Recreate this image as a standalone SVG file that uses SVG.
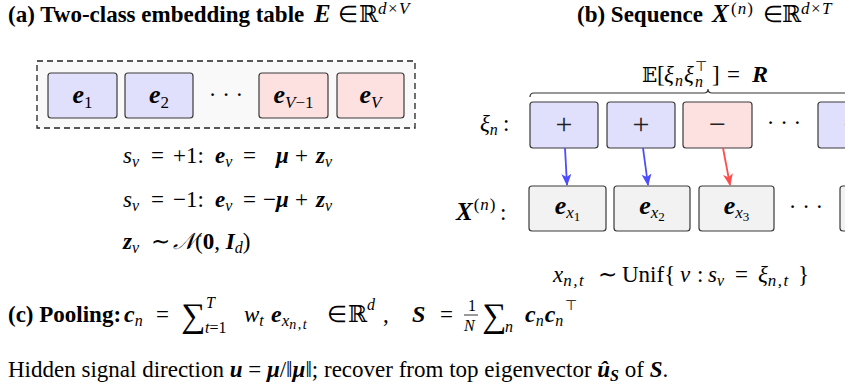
<svg xmlns="http://www.w3.org/2000/svg" width="845" height="390" viewBox="0 0 845 390">
<style>
svg{font-family:"Liberation Serif","Times New Roman",serif;font-size:23px;}
text{fill:#000;}
.b{font-weight:bold;}
.i{font-style:italic;}
.bi{font-weight:bold;font-style:italic;}
.bb{font-family:"DejaVu Serif","DejaVu Sans",serif;font-weight:normal;font-style:normal;}
.s{font-size:16px;}
.sb{font-size:17px;}
.ss{font-size:14px;}
.top{font-size:14px;font-family:"DejaVu Sans",sans-serif;}
.box{stroke:#3a3a3a;stroke-width:1.2;}
.blue{fill:#e0e0fc;}
.red{fill:#fde1e1;}
.gray{fill:#f2f2f2;}
.lbl{font-size:26px;text-anchor:middle;}
.sign{font-size:30px;text-anchor:middle;fill:#222;}
.big{font-size:34px;font-family:"Liberation Serif","DejaVu Serif",serif;}
</style>
<defs>
<marker id="ab" viewBox="0 0 12 10" refX="11" refY="5" markerWidth="12" markerHeight="10" markerUnits="userSpaceOnUse" orient="auto"><path d="M0,0 L12,5 L0,10 L3,5 z" fill="#4d4dff"/></marker>
<marker id="ar" viewBox="0 0 12 10" refX="11" refY="5" markerWidth="12" markerHeight="10" markerUnits="userSpaceOnUse" orient="auto"><path d="M0,0 L12,5 L0,10 L3,5 z" fill="#ff4d4d"/></marker>
</defs>

<!-- Titles -->
<g id="titleA">
<text class="b" x="8" y="22">(a) Two-class embedding table</text>
<text class="bi" x="314" y="22" font-size="25">E</text>
<text x="338" y="22">∈</text>
<text class="bb" x="359" y="22">ℝ</text>
<text class="sb" x="378" y="14" letter-spacing="1.5"><tspan class="i">d</tspan>×<tspan class="i">V</tspan></text>
</g>
<g id="titleB">
<text class="b" x="577" y="22">(b) Sequence</text>
<text class="bi" x="712" y="22" font-size="25">X</text>
<text class="sb" x="731" y="14" letter-spacing="1">(<tspan class="i">n</tspan>)</text>
<text x="763" y="22">∈</text>
<text class="bb" x="782" y="22">ℝ</text>
<text class="sb" x="801" y="14" letter-spacing="1.5"><tspan class="i">d</tspan>×<tspan class="i">T</tspan></text>
</g>

<!-- (a) embedding table -->
<g id="table">
<rect x="37" y="61" width="378" height="67" fill="#f9f9f9" stroke="#222" stroke-width="1.3" stroke-dasharray="6,4"/>
</g>
<g id="e1"><rect class="box blue" x="48" y="73" width="69" height="45" rx="3"/><text class="lbl" x="82.5" y="103"><tspan class="bi">e</tspan><tspan font-size="17" dy="5">1</tspan></text></g>
<g id="e2"><rect class="box blue" x="125" y="73" width="68" height="45" rx="3"/><text class="lbl" x="159" y="103"><tspan class="bi">e</tspan><tspan font-size="17" dy="5">2</tspan></text></g>
<text x="226" y="102" text-anchor="middle">· · ·</text>
<g id="eVm1"><rect class="box red" x="259" y="73" width="69" height="45" rx="3"/><text class="lbl" x="293.5" y="103"><tspan class="bi">e</tspan><tspan class="i" font-size="17" dy="5">V</tspan><tspan font-size="17">−1</tspan></text></g>
<g id="eV"><rect class="box red" x="337" y="73" width="67" height="45" rx="3"/><text class="lbl" x="370.5" y="103"><tspan class="bi">e</tspan><tspan class="i" font-size="17" dy="5">V</tspan></text></g>

<!-- (a) equations -->
<g id="eqs">
<text x="123" y="163"><tspan class="i">s</tspan><tspan class="i s" dy="4">v</tspan></text>
<text x="151" y="163">=</text>
<text x="173" y="163">+1:</text>
<text x="215" y="163"><tspan class="bi">e</tspan><tspan class="i s" dy="4">v</tspan></text>
<text x="243" y="163">=</text>
<text x="276" y="163" class="bi">μ</text>
<text x="295" y="163">+</text>
<text x="316" y="163"><tspan class="bi">z</tspan><tspan class="i s" dy="4">v</tspan></text>

<text x="123" y="207"><tspan class="i">s</tspan><tspan class="i s" dy="4">v</tspan></text>
<text x="151" y="207">=</text>
<text x="173" y="207">−1:</text>
<text x="215" y="207"><tspan class="bi">e</tspan><tspan class="i s" dy="4">v</tspan></text>
<text x="243" y="207">=</text>
<text x="263" y="207">−<tspan class="bi">μ</tspan></text>
<text x="295" y="207">+</text>
<text x="316" y="207"><tspan class="bi">z</tspan><tspan class="i s" dy="4">v</tspan></text>

<text x="123" y="249"><tspan class="bi">z</tspan><tspan class="i s" dy="4">v</tspan></text>
<text x="151" y="249">∼</text>
<text x="173" y="249"><tspan class="i">𝒩</tspan>(<tspan class="b">0</tspan>, <tspan class="bi">I</tspan><tspan class="i s" dy="4">d</tspan><tspan dy="-4">)</tspan></text>
</g>

<!-- (b) sequence -->
<path d="M530,97 q0,-4 4,-4 L704,93 q4,0 4,-4 q0,4 4,4 L882,93 q4,0 4,4" fill="none" stroke="#333" stroke-width="1.2"/>
<g id="braceLabel">
<text class="bb" x="642" y="82" font-size="20">𝔼</text>
<text x="657" y="82">[</text>
<text class="i" x="664" y="82">ξ</text>
<text class="i s" x="675" y="86">n</text>
<text class="i" x="684" y="82">ξ</text>
<text class="i s" x="695" y="87">n</text>
<text class="top" x="695" y="71">⊤</text>
<text x="712" y="82">]</text>
<text x="727" y="82">=</text>
<text class="bi" x="752" y="82" font-size="24">R</text>
</g>

<text x="480" y="131"><tspan class="i">ξ</tspan><tspan class="i s" dy="4">n</tspan></text>
<text x="503" y="131">:</text>
<text x="456" y="220"><tspan class="bi" font-size="25">X</tspan><tspan class="sb" dx="1" dy="-10" letter-spacing="1">(<tspan class="i">n</tspan>)</tspan></text>
<text x="500" y="220">:</text>

<g id="xi1"><rect class="box blue" x="530" y="102" width="68" height="46" rx="3"/><text class="sign" x="564" y="134">+</text></g>
<g id="xi2"><rect class="box blue" x="607" y="102" width="68" height="46" rx="3"/><text class="sign" x="641" y="134">+</text></g>
<g id="xi3"><rect class="box red" x="683" y="102" width="69" height="46" rx="3"/><text class="sign" x="717.5" y="134">−</text></g>
<text x="784" y="130" text-anchor="middle">· · ·</text>
<g id="xiT"><rect class="box blue" x="818" y="102" width="68" height="46" rx="3"/><text class="sign" x="852" y="134">+</text></g>

<g id="x1"><rect class="box gray" x="529" y="186" width="77" height="45" rx="3"/><text class="lbl" x="567.5" y="214"><tspan class="bi">e</tspan><tspan class="i" font-size="17" dy="4">x</tspan><tspan font-size="13" dy="3">1</tspan></text></g>
<g id="x2"><rect class="box gray" x="614" y="186" width="76" height="45" rx="3"/><text class="lbl" x="652" y="214"><tspan class="bi">e</tspan><tspan class="i" font-size="17" dy="4">x</tspan><tspan font-size="13" dy="3">2</tspan></text></g>
<g id="x3"><rect class="box gray" x="699" y="186" width="75" height="45" rx="3"/><text class="lbl" x="736.5" y="214"><tspan class="bi">e</tspan><tspan class="i" font-size="17" dy="4">x</tspan><tspan font-size="13" dy="3">3</tspan></text></g>
<text x="806" y="214" text-anchor="middle">· · ·</text>
<g id="xT"><rect class="box gray" x="840" y="186" width="77" height="45" rx="3"/></g>

<g id="connectors" fill="none" stroke-width="1.8">
<line x1="565" y1="148" x2="567" y2="185" stroke="#4d4dff" marker-end="url(#ab)"/>
<line x1="643" y1="148" x2="648" y2="185" stroke="#4d4dff" marker-end="url(#ab)"/>
<line x1="723" y1="148" x2="730" y2="185" stroke="#ff4d4d" marker-end="url(#ar)"/>
</g>

<g id="sampling">
<text x="553" y="282"><tspan class="i">x</tspan><tspan class="i sb" dy="4" letter-spacing="1.5">n,t</tspan></text>
<text x="598" y="282">∼</text>
<text x="622" y="282">Unif{</text>
<text class="i" x="680" y="282">v</text>
<text x="697" y="282">:</text>
<text x="708" y="282"><tspan class="i">s</tspan><tspan class="i s" dy="4">v</tspan></text>
<text x="735" y="282">=</text>
<text x="758" y="282"><tspan class="i">ξ</tspan><tspan class="i sb" dy="4" letter-spacing="1.5">n,t</tspan></text>
<text x="798" y="282">}</text>
</g>

<!-- (c) pooling -->
<g id="pooling">
<text class="b" x="8" y="322">(c) Pooling:</text>
<text x="124" y="322"><tspan class="bi" font-size="24">c</tspan><tspan class="i s" dy="4">n</tspan></text>
<text x="156" y="322">=</text>
<text class="big" x="181" y="327">∑</text>
<text class="i s" x="206" y="308">T</text>
<text class="s" x="205" y="333"><tspan class="i">t</tspan>=1</text>
<text x="244" y="322"><tspan class="i">w</tspan><tspan class="i s" dy="4">t</tspan></text>
<text x="271" y="322"><tspan class="bi" font-size="24">e</tspan><tspan class="i sb" dy="4">x</tspan><tspan class="i ss" dy="3" letter-spacing="1.5">n,t</tspan></text>
<text x="327" y="322">∈</text>
<text class="bb" x="348" y="322">ℝ</text>
<text class="i s" x="367" y="310">d</text>
<text x="383" y="322">,</text>
<text class="bi" x="412" y="322" font-size="24">S</text>
<text x="440" y="322">=</text>
<text class="s" x="468" y="311">1</text>
<line x1="464" y1="315" x2="478" y2="315" stroke="#000" stroke-width="0.8"/>
<text class="i s" x="464" y="331">N</text>
<text class="big" x="482" y="327">∑</text>
<text class="i s" x="505" y="332">n</text>
<text x="525" y="322"><tspan class="bi" font-size="24">c</tspan><tspan class="i s" dy="4">n</tspan><tspan class="bi" font-size="24" dx="1" dy="-4">c</tspan><tspan class="i s" dy="4">n</tspan></text>
<text class="top" x="565" y="310">⊤</text>
</g>

<text x="8" y="377">Hidden signal direction <tspan class="bi">u</tspan> = <tspan class="bi">μ</tspan>/‖<tspan class="bi">μ</tspan>‖; recover from top eigenvector <tspan class="bi">û</tspan><tspan class="bi s" dy="4">S</tspan><tspan dy="-4"> of </tspan><tspan class="bi">S</tspan>.</text>
</svg>
